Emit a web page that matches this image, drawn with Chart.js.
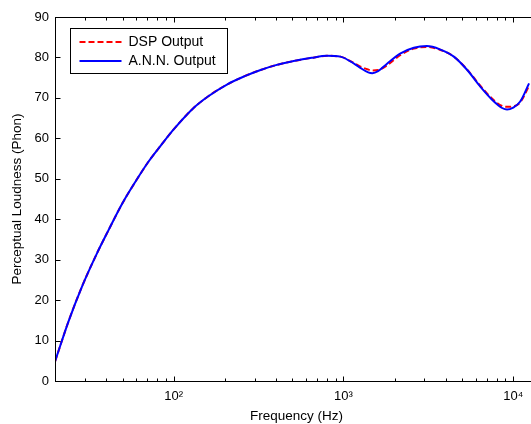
<!DOCTYPE html>
<html>
<head>
<meta charset="utf-8">
<script src="https://cdn.jsdelivr.net/npm/chart.js@4.4.1/dist/chart.umd.min.js"></script>
<style>
  body { margin: 0; background: #fff; overflow: hidden; }
  canvas { display: block; }
</style>
</head>
<body>
<canvas id="loudnessChart" width="545" height="424"></canvas>
<script>
// frequency points (Hz) and loudness values (phon)
const freqs = [20, 24, 29, 35, 41, 50, 60, 71, 85, 100, 131, 160, 206, 260, 325, 400, 509, 650, 800, 960,
               1100, 1250, 1400, 1480, 1600, 1800, 2170, 2600, 3100, 3700, 4470, 5360, 6400, 7700, 8600, 9200,
               10000, 11000, 12400];
const dspOutput = [4.8, 14.7, 23.6, 31.2, 37.0, 44.0, 49.5, 54.2, 58.5, 62.2, 67.5, 70.4, 73.3, 75.3, 76.9, 78.1, 79.1, 79.9, 80.4, 80.2,
                   79.1, 77.8, 77.0, 76.8, 76.9, 78.0, 80.6, 82.2, 82.6, 81.9, 80.2, 77.0, 73.0, 69.4, 68.0, 67.8,
                   67.9, 68.9, 73.0];
const annOutput = [4.8, 14.7, 23.6, 31.2, 37.0, 44.0, 49.5, 54.2, 58.5, 62.2, 67.5, 70.4, 73.3, 75.3, 76.9, 78.1, 79.1, 79.9, 80.4, 80.2,
                   79.0, 77.5, 76.3, 76.1, 76.6, 78.4, 81.0, 82.4, 82.8, 82.0, 80.2, 76.9, 72.8, 69.1, 67.5, 67.1,
                   67.6, 69.1, 73.6];
const seriesNames = ['DSP Output', 'A.N.N. Output'];

const xMin = 20, xMax = 14000;
const xMajor = [100, 1000, 10000];
const xMajorLabels = ['10\u00b2', '10\u00b3', '10\u2074'];
const yMin = 0, yMax = 90, yStep = 10;

// all decade multiples for the tick marks
const xTicks = [];
for (let d = 10; d <= 10000; d *= 10) {
    for (let m = 1; m <= 9; m++) {
        const v = d * m;
        if (v >= xMin && v <= xMax) xTicks.push(v);
    }
}

const fontFam = '"Liberation Sans", Arial, sans-serif';

// matlab style box, inner ticks and legend
const matlabAxes = {
    id: 'matlabAxes',
    afterDatasetsDraw(chart) {
        const ctx = chart.ctx;
        const area = chart.chartArea;
        const xs = chart.scales.x, ys = chart.scales.y;
        const L = Math.round(area.left) + 0.5, R = Math.round(area.right) + 0.5;
        const T = Math.round(area.top) + 0.5, B = Math.round(area.bottom) + 0.5;
        ctx.save();
        ctx.strokeStyle = '#000';
        ctx.lineWidth = 1;
        ctx.strokeRect(L, T, R - L, B - T);

        ctx.beginPath();
        xTicks.forEach(v => {
            const px = Math.round(xs.getPixelForValue(v)) + 0.5;
            const len = xMajor.includes(v) ? 5 : 3;
            ctx.moveTo(px, B); ctx.lineTo(px, B - len);
            ctx.moveTo(px, T); ctx.lineTo(px, T + len);
        });
        for (let v = yMin; v <= yMax; v += yStep) {
            const py = Math.round(ys.getPixelForValue(v)) + 0.5;
            ctx.moveTo(L, py); ctx.lineTo(L + 5, py);
            ctx.moveTo(R, py); ctx.lineTo(R - 5, py);
        }
        ctx.stroke();

        // legend box
        const bx = L + 15, by = T + 11, bw = 157, bh = 45;
        ctx.fillStyle = '#fff';
        ctx.fillRect(bx, by, bw, bh);
        ctx.strokeRect(bx, by, bw, bh);
        ctx.font = '14px ' + fontFam;
        ctx.textBaseline = 'middle';
        chart.data.datasets.forEach((ds, i) => {
            const ly = Math.round(by + 13 + i * 19);
            ctx.beginPath();
            ctx.strokeStyle = ds.borderColor;
            ctx.lineWidth = 2;
            ctx.setLineDash(ds.borderDash || []);
            ctx.moveTo(bx + 9, ly); ctx.lineTo(bx + 51, ly);
            ctx.stroke();
            ctx.setLineDash([]);
            ctx.fillStyle = '#000';
            ctx.fillText(ds.label, bx + 58, ly);
        });
        ctx.restore();
    }
};

new Chart(document.getElementById('loudnessChart').getContext('2d'), {
    type: 'line',
    data: {
        datasets: [{
            label: seriesNames[0],
            data: freqs.map((f, i) => ({ x: f, y: dspOutput[i] })),
            borderColor: '#ff0000',
            borderWidth: 2,
            borderDash: [6, 3],
            pointRadius: 0,
            cubicInterpolationMode: 'monotone',
            order: 2
        }, {
            label: seriesNames[1],
            data: freqs.map((f, i) => ({ x: f, y: annOutput[i] })),
            borderColor: '#0000ff',
            borderWidth: 2,
            pointRadius: 0,
            cubicInterpolationMode: 'monotone',
            order: 1
        }]
    },
    options: {
        responsive: false,
        animation: false,
        layout: { padding: { top: 17, right: 7, left: 0, bottom: 0 } },
        plugins: { legend: { display: false }, tooltip: { enabled: false } },
        scales: {
            x: {
                type: 'logarithmic',
                min: xMin,
                max: xMax,
                grid: { display: false, drawTicks: false },
                border: { display: false },
                afterBuildTicks: scale => { scale.ticks = xTicks.map(v => ({ value: v })); },
                afterFit: scale => { scale.height = 43; },
                ticks: {
                    autoSkip: false,
                    maxRotation: 0,
                    padding: 8,
                    color: '#000',
                    font: { family: fontFam, size: 13 },
                    callback: value => {
                        const k = xMajor.indexOf(value);
                        return k >= 0 ? xMajorLabels[k] : '';
                    }
                },
                title: {
                    display: true,
                    text: 'Frequency (Hz)',
                    color: '#000',
                    padding: { top: 1, bottom: 0 },
                    font: { family: fontFam, size: 13.5 }
                }
            },
            y: {
                min: yMin,
                max: yMax,
                grid: { display: false, drawTicks: false },
                border: { display: false },
                afterFit: scale => { scale.width = 55; },
                ticks: {
                    stepSize: yStep,
                    padding: 6,
                    color: '#000',
                    font: { family: fontFam, size: 13 }
                },
                title: {
                    display: true,
                    text: 'Perceptual Loudness (Phon)',
                    color: '#000',
                    padding: { top: 9, bottom: 0 },
                    font: { family: fontFam, size: 13.5 }
                }
            }
        }
    },
    plugins: [matlabAxes]
});
</script>
</body>
</html>
